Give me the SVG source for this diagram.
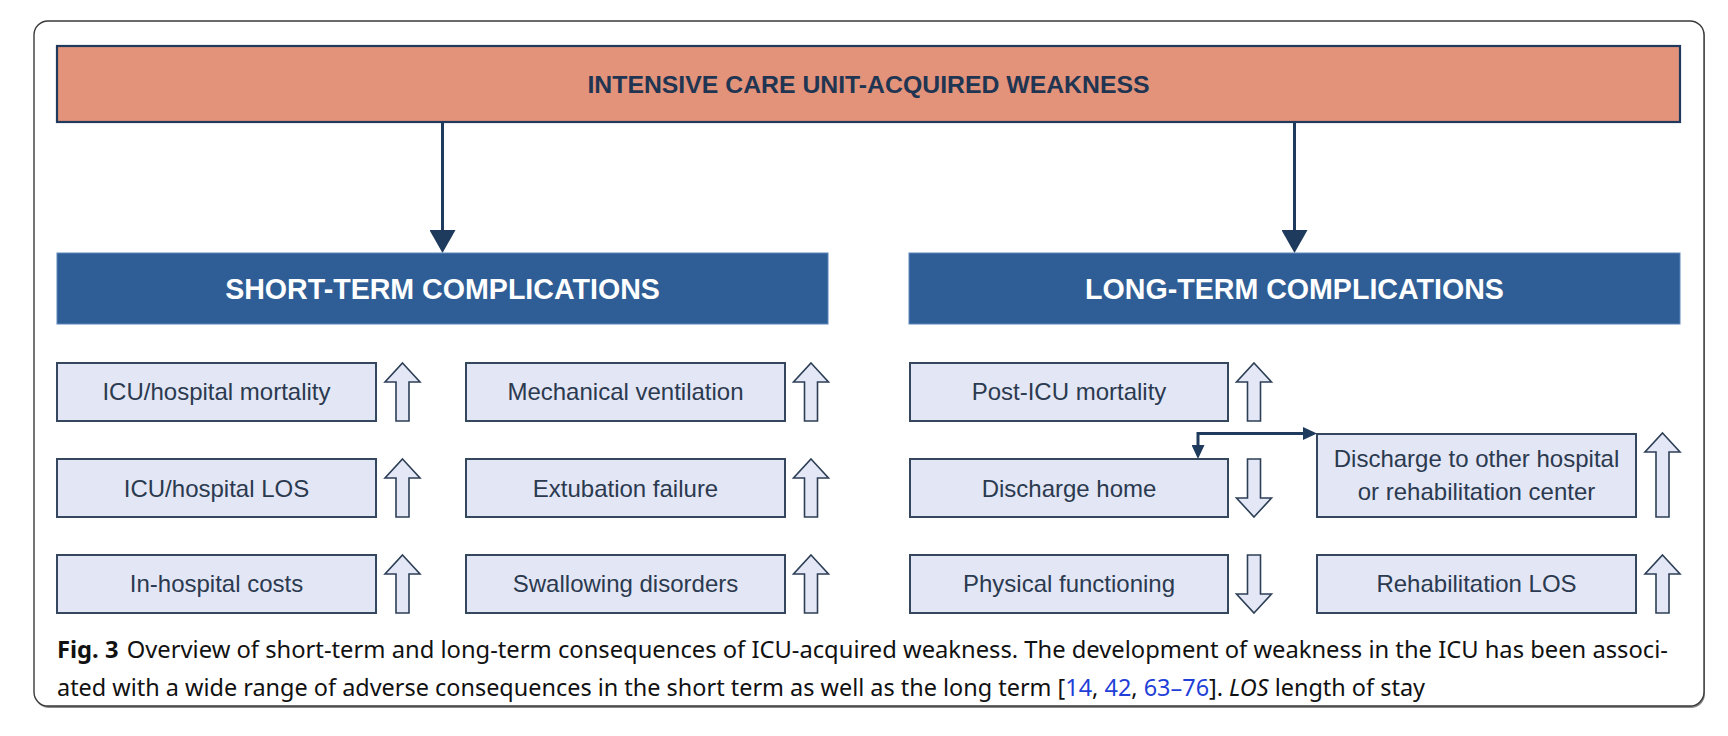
<svg xmlns="http://www.w3.org/2000/svg" width="1728" height="736" viewBox="0 0 1728 736">
<style>
.frame{fill:#fff;stroke:#3a3a3a;stroke-width:1.4}
.top{fill:#e3937a;stroke:#1f3a5c;stroke-width:2.2}
.hdr{fill:#2f5e96;stroke:#5b86bb;stroke-width:1}
.box{fill:#e3e6f5;stroke:#34475f;stroke-width:2}
.blk{fill:#e4e7f5;stroke:#2d3f57;stroke-width:1.6;stroke-linejoin:miter}
.title{font-family:"Liberation Sans",Arial,sans-serif;font-weight:bold;font-size:24.8px;fill:#1f3552;text-anchor:middle}
.htxt{font-family:"Liberation Sans",Arial,sans-serif;font-weight:bold;font-size:28.6px;fill:#ffffff;text-anchor:middle}
.btxt{font-family:"Liberation Sans",Arial,sans-serif;font-size:24px;fill:#2b3a4f;text-anchor:middle}
.cap{font-family:"Noto Sans","Open Sans",sans-serif;font-size:23px;fill:#111}
.lnk{fill:#1f3fd8}
.con{fill:none;stroke:#1e3a5c;stroke-width:3}
</style>
<defs>
<marker id="bigHead" markerUnits="userSpaceOnUse" markerWidth="24" markerHeight="26" refX="10" refY="13" orient="auto" viewBox="0 0 23 26">
<path d="M0,0 L23,13 L0,26 Z" fill="#1e3a5c"/>
</marker>
<marker id="smHead" markerUnits="userSpaceOnUse" markerWidth="14" markerHeight="13" refX="4" refY="6.5" orient="auto-start-reverse" viewBox="0 0 14 13">
<path d="M0,0 L14,6.5 L0,13 Z" fill="#1e3a5c"/>
</marker>
<path id="upS" class="blk" d="M0,0 L17.5,19 L6.5,19 L6.5,58 L-6.5,58 L-6.5,19 L-17.5,19 Z"/>
<path id="upT" class="blk" d="M0,0 L17.5,19 L6.5,19 L6.5,84 L-6.5,84 L-6.5,19 L-17.5,19 Z"/>
<path id="downS" class="blk" d="M0,58 L17.5,39 L6.5,39 L6.5,0 L-6.5,0 L-6.5,39 L-17.5,39 Z"/>
</defs>

<rect x="35" y="23" width="1670" height="685" rx="14" fill="#8a8a8a"/>
<rect class="frame" x="34" y="21" width="1670" height="685" rx="14"/>

<g id="icuaw">
<rect class="top" x="57" y="46" width="1623" height="76"/>
<text class="title" x="868.5" y="92.5">INTENSIVE CARE UNIT-ACQUIRED WEAKNESS</text>
</g>

<g id="connectors">
<path class="con" d="M442.5,122 V240" marker-end="url(#bigHead)"/>
<path class="con" d="M1294.5,122 V240" marker-end="url(#bigHead)"/>
<path class="con" d="M1198,449 V433.5 H1307" marker-start="url(#smHead)" marker-end="url(#smHead)"/>
</g>

<g id="short-term">
<rect class="hdr" x="57" y="253" width="771" height="71"/>
<text class="htxt" x="442.5" y="298.5">SHORT-TERM COMPLICATIONS</text>
</g>
<g id="long-term">
<rect class="hdr" x="909" y="253" width="771" height="71"/>
<text class="htxt" x="1294.5" y="298.5">LONG-TERM COMPLICATIONS</text>
</g>

<g id="icu-mortality">
<rect class="box" x="57" y="363" width="319" height="58"/>
<text class="btxt" x="216.5" y="400">ICU/hospital mortality</text>
<use href="#upS" x="402.5" y="363"/>
</g>
<g id="icu-los">
<rect class="box" x="57" y="459" width="319" height="58"/>
<text class="btxt" x="216.5" y="496.5">ICU/hospital LOS</text>
<use href="#upS" x="402.5" y="459"/>
</g>
<g id="costs">
<rect class="box" x="57" y="555" width="319" height="58"/>
<text class="btxt" x="216.5" y="592">In-hospital costs</text>
<use href="#upS" x="402.5" y="555"/>
</g>

<g id="mech-vent">
<rect class="box" x="466" y="363" width="319" height="58"/>
<text class="btxt" x="625.5" y="400">Mechanical ventilation</text>
<use href="#upS" x="811" y="363"/>
</g>
<g id="extubation">
<rect class="box" x="466" y="459" width="319" height="58"/>
<text class="btxt" x="625.5" y="496.5">Extubation failure</text>
<use href="#upS" x="811" y="459"/>
</g>
<g id="swallowing">
<rect class="box" x="466" y="555" width="319" height="58"/>
<text class="btxt" x="625.5" y="592">Swallowing disorders</text>
<use href="#upS" x="811" y="555"/>
</g>

<g id="post-icu-mortality">
<rect class="box" x="910" y="363" width="318" height="58"/>
<text class="btxt" x="1069" y="400">Post-ICU mortality</text>
<use href="#upS" x="1254" y="363"/>
</g>
<g id="discharge-home">
<rect class="box" x="910" y="459" width="318" height="58"/>
<text class="btxt" x="1069" y="496.5">Discharge home</text>
<use href="#downS" x="1254" y="459"/>
</g>
<g id="physical">
<rect class="box" x="910" y="555" width="318" height="58"/>
<text class="btxt" x="1069" y="592">Physical functioning</text>
<use href="#downS" x="1254" y="555"/>
</g>

<g id="discharge-other">
<rect class="box" x="1317" y="434" width="319" height="83"/>
<text class="btxt" x="1476.5" y="466.5">Discharge to other hospital</text>
<text class="btxt" x="1476.5" y="499.5">or rehabilitation center</text>
<use href="#upT" x="1662.5" y="433"/>
</g>
<g id="rehab-los">
<rect class="box" x="1317" y="555" width="319" height="58"/>
<text class="btxt" x="1476.5" y="592">Rehabilitation LOS</text>
<use href="#upS" x="1662.5" y="555"/>
</g>

<g id="caption">
<text class="cap" x="57" y="658" textLength="1611" lengthAdjust="spacingAndGlyphs"><tspan font-weight="bold">Fig. 3</tspan><tspan dx="8">Overview of short-term and long-term consequences of ICU-acquired weakness. The development of weakness in the ICU has been associ-</tspan></text>
<text class="cap" x="57" y="696" textLength="1368" lengthAdjust="spacingAndGlyphs">ated with a wide range of adverse consequences in the short term as well as the long term [<tspan class="lnk">14</tspan>, <tspan class="lnk">42</tspan>, <tspan class="lnk">63–76</tspan>]. <tspan font-style="italic">LOS</tspan> length of stay</text>
</g>
</svg>
